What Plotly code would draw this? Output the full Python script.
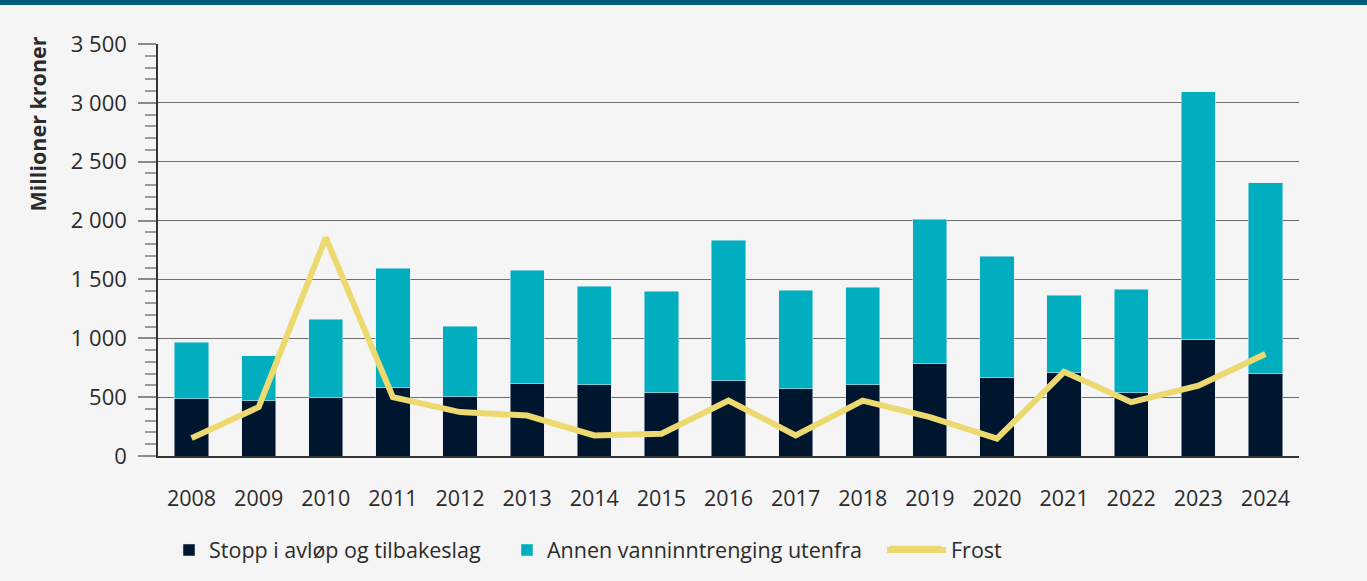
import plotly.graph_objects as go

years = [str(y) for y in range(2008, 2025)]

# Millioner kroner
stopp = [485, 468, 494, 578, 502, 612, 604, 536, 638, 570, 604, 790, 663, 706, 536, 986, 698]
total = [968, 850, 1163, 1595, 1104, 1578, 1442, 1400, 1832, 1410, 1434, 2011, 1697, 1366, 1418, 3094, 2323]
annen = [t - s for t, s in zip(total, stopp)]
frost = [152, 415, 1855, 500, 373, 344, 175, 189, 471, 175, 471, 330, 147, 715, 457, 598, 866]

navy = "#00152e"
teal = "#00aec0"
yellow = "#ecd970"
bg = "#f5f5f5"
txt = "#2b2b2b"

L, R, T, B = 158, 68, 44, 124
W, H = 1367, 581
pw, ph = W - L - R, H - T - B


def px_x(px):
    # pixel column -> paper x
    return (px - L) / pw


def px_y(py):
    # pixel row -> paper y
    return (H - B - py) / ph


fig = go.Figure()
fig.add_trace(go.Bar(x=years, y=stopp, name="Stopp i avløp og tilbakeslag",
                     marker_color=navy, legend="legend"))
fig.add_trace(go.Bar(x=years, y=annen, name="Annen vanninntrenging utenfra",
                     marker_color=teal, legend="legend2"))
fig.add_trace(go.Scatter(x=years, y=frost, name="Frost", mode="lines",
                         line=dict(color=yellow, width=6), legend="legend3"))

leg = dict(orientation="h", xanchor="left", y=px_y(550), yanchor="middle",
           font=dict(size=21.5, color=txt), itemwidth=30, bgcolor="rgba(0,0,0,0)")

fig.update_layout(
    barmode="stack",
    bargap=0.49,
    width=W, height=H,
    margin=dict(l=L, r=R, t=T, b=B),
    paper_bgcolor=bg, plot_bgcolor=bg,
    font=dict(family="Open Sans", size=21.5, color=txt),
    separators=", ",
    showlegend=True,
    legend=dict(leg, x=px_x(169)),
    legend2=dict(leg, x=px_x(507)),
    legend3=dict(leg, x=px_x(882), itemwidth=59),
    shapes=[
        # band along the top edge
        dict(type="rect", xref="paper", yref="paper", x0=-0.2, x1=1.1,
             y0=px_y(5), y1=1.2, fillcolor="#005a7e", line_width=0, layer="above"),
        # longer legend stroke for Frost
        dict(type="line", xref="paper", yref="paper", x0=px_x(889), x1=px_x(941),
             y0=px_y(550), y1=px_y(550), line=dict(color=yellow, width=6)),
    ],
    annotations=[dict(text="<b>Millioner kroner</b>", textangle=-90,
                      xref="paper", yref="paper", x=px_x(38), y=px_y(35),
                      xanchor="center", yanchor="top", showarrow=False,
                      font=dict(size=21.5, color=txt))],
)

fig.update_xaxes(
    showline=True, linecolor="#333333", linewidth=2,
    ticks="", ticklabelstandoff=22, showgrid=False,
    tickfont=dict(size=21.5),
)
fig.update_yaxes(
    range=[0, 3500], dtick=500, tickformat=",d",
    showgrid=True, gridcolor="#6e6e6e", gridwidth=1,
    showline=True, linecolor="#333333", linewidth=1.5,
    ticks="outside", ticklen=18, tickcolor="#8a8a8a", tickwidth=1.5,
    ticklabelstandoff=7, zeroline=False, tickfont=dict(size=22),
    minor=dict(dtick=100, ticks="outside", ticklen=11, tickcolor="#9a9a9a", showgrid=False),
)

fig.write_html("out.html", config={"displayModeBar": False},
               post_script="document.body.style.margin='0';")
